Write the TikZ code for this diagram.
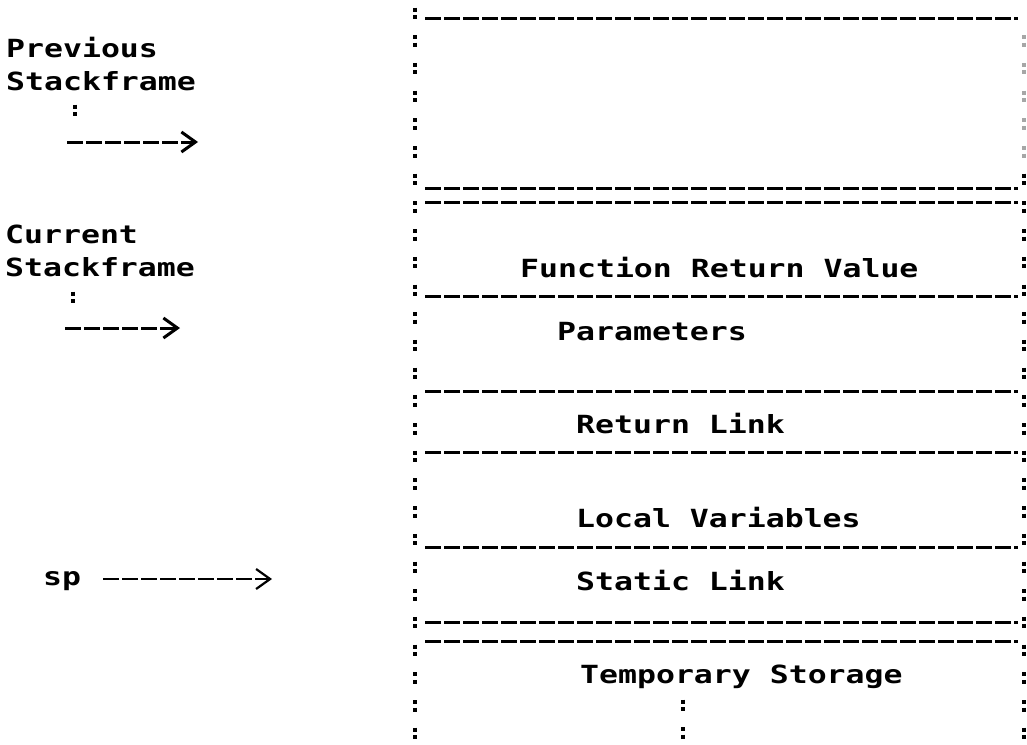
\documentclass[tikz,border=0pt]{standalone}
\usepackage{fontspec}
\newfontfamily\dotfont[FakeStretch=1.26]{DejaVu Sans Mono}
\usetikzlibrary{arrows.meta}

\begin{document}
\begin{tikzpicture}[x=1pt,y=-1pt,
  txt/.style={anchor=base west,inner sep=0pt,font=\dotfont\bfseries\fontsize{25}{30}\selectfont},
  rule/.style={line width=3pt,dash pattern=on 16pt off 3pt},
  colon/.style={line width=4.5pt,dash pattern=on 4pt off 3.5pt on 4pt off 16.2pt},
  ascarrow/.style={rule,-{Straight Barb[length=14pt,width=20pt]}}]
 	\useasboundingbox (0,0) rectangle (1027,744);
 	\node[txt] (prev) at (6,57) {Previous};
 	\node[txt] (prevframe) at (6,90) {Stackframe};
 	\node[txt] (cur) at (5,243) {Current};
 	\node[txt] (curframe) at (5,276) {Stackframe};
 	\node[txt] (sp) at (43,585) {sp};
 	\node[txt] (retval) at (520,277) {Function Return Value};
 	\node[txt] (params) at (557,340) {Parameters};
 	\node[txt] (retlink) at (576,433) {Return Link};
 	\node[txt] (locals) at (576,527) {Local Variables};
 	\node[txt] (statlink) at (576,590) {Static Link};
 	\node[txt] (temps) at (580,683) {Temporary Storage};
 	\coordinate (prevfrom) at (67,142);
 	\coordinate (prevto) at (198,142);
 	\coordinate (curfrom) at (65,328);
 	\coordinate (curto) at (180,328);
 	\coordinate (spfrom) at (103,579);
 	\coordinate (spto) at (272,579);
 	\draw[colon] (75,104.5) -- (75,116);
 	\draw[ascarrow] (prevfrom) -- (prevto);
 	\draw[colon] (73,291.5) -- (73,303);
 	\draw[ascarrow] (curfrom) -- (curto);
 	\draw[ascarrow,line width=2.2pt] (spfrom) -- (spto);
 	\draw[colon] (415,7.5) -- (415,744);
 	\draw[colon,black!35] (1024,35.2) -- (1024,173.7);
 	\draw[colon] (1024,173.7) -- (1024,744);
 	\draw[colon] (683,699.5) -- (683,744);
 	\draw[rule] (425,18) -- (1018,18);
 	\draw[rule] (425,188) -- (1018,188);
 	\draw[rule] (425,202) -- (1018,202);
 	\draw[rule] (425,296) -- (1018,296);
 	\draw[rule] (425,391) -- (1018,391);
 	\draw[rule] (425,452) -- (1018,452);
 	\draw[rule] (425,547) -- (1018,547);
 	\draw[rule] (425,622) -- (1018,622);
 	\draw[rule] (425,641) -- (1018,641);
\end{tikzpicture}
\end{document}
